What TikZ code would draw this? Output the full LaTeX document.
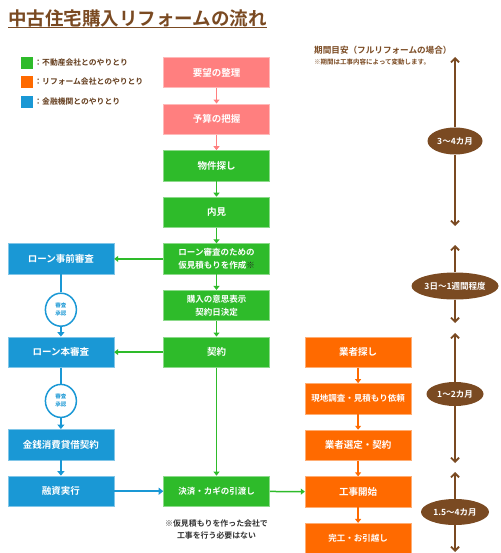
\documentclass[tikz,border=0pt]{standalone}
\usepackage{fontspec}
\setmainfont{Noto Sans CJK JP}[BoldFont={Noto Sans CJK JP Bold}]
\usetikzlibrary{positioning, arrows.meta, shapes.geometric}
\definecolor{wishpink}{HTML}{FF7F7F}
\definecolor{estategreen}{HTML}{2EBB2A}
\definecolor{reformorange}{HTML}{FF6A00}
\definecolor{bankblue}{HTML}{1A98D5}
\definecolor{periodbrown}{HTML}{7A4A22}
\definecolor{notegray}{HTML}{333333}
\tikzset{
	node distance=15.5pt,
	box/.style={minimum width=106pt, minimum height=30.5pt, inner sep=1pt, align=center, text=white, line width=0.6pt, font=\bfseries\fontsize{9.5}{13}\selectfont},
	pinkbox/.style={box, fill=wishpink, draw=wishpink!55!white},
	greenbox/.style={box, fill=estategreen, draw=estategreen!55!white},
	orangebox/.style={box, fill=reformorange, draw=reformorange!55!white},
	bluebox/.style={box, fill=bankblue, draw=bankblue!55!white},
	small/.style={font=\bfseries\fontsize{8.5}{13}\selectfont},
	approval/.style={ellipse, draw=bankblue, line width=1.5pt, fill=white, minimum width=31pt, minimum height=33pt, inner sep=0pt, align=center, text=bankblue, font=\bfseries\fontsize{5.5}{8}\selectfont},
	period/.style={ellipse, fill=periodbrown, text=white, inner sep=0pt, minimum height=27pt, font=\bfseries\fontsize{8.5}{10}\selectfont},
	pinkflow/.style={draw=wishpink, line width=1.5pt, -{Triangle[length=4pt,width=6pt]}},
	greenflow/.style={draw=estategreen, line width=1.5pt, -{Triangle[length=4pt,width=6pt]}},
	orangeflow/.style={draw=reformorange, line width=1.5pt, -{Triangle[length=4pt,width=6pt]}},
	blueflow/.style={draw=bankblue, line width=2pt, -{Triangle[length=4.5pt,width=7pt]}},
	blueline/.style={draw=bankblue, line width=2pt},
	span/.style={draw=periodbrown, line width=1.8pt, -{Straight Barb[length=4pt,width=8pt]}},
	legendbox/.style={minimum size=12pt, inner sep=0pt},
	legendtext/.style={anchor=west, inner sep=0pt, text=periodbrown!80!black, font=\bfseries\fontsize{7.8}{9}\selectfont},
}
\begin{document}
\begin{tikzpicture}
	\useasboundingbox (0,0) rectangle (500pt,-553pt);
	\node[anchor=west, inner sep=0pt, text=periodbrown, font=\bfseries\fontsize{18.5}{20}\selectfont] (TITLE) at (8pt,-18.5pt) {中古住宅購入リフォームの流れ};
	\draw[periodbrown, line width=1.5pt] (TITLE.south west) -- (TITLE.south east);
	
	\node[legendbox, fill=estategreen] (KEYG) at (27pt,-63pt) {};
	\node[legendbox, fill=reformorange] (KEYO) at (27pt,-82pt) {};
	\node[legendbox, fill=bankblue] (KEYB) at (27pt,-102pt) {};
	\node[legendtext, right=1pt of KEYG] {：不動産会社とのやりとり};
	\node[legendtext, right=1pt of KEYO] {：リフォーム会社とのやりとり};
	\node[legendtext, right=1pt of KEYB] {：金融機関とのやりとり};
	
	\node[pinkbox] (WISH) at (216.5pt,-72.5pt) {要望の整理};
	\node[pinkbox, below=of WISH] (BUDGET) {予算の把握};
	\node[greenbox, below=of BUDGET] (SEARCH) {物件探し};
	\node[greenbox, below=of SEARCH] (VIEW) {内見};
	\node[greenbox, small, below=of VIEW] (ESTIMATE) {ローン審査のための\\仮見積もりを作成{\color{black!85}※}};
	\node[greenbox, small, below=of ESTIMATE] (INTENT) {購入の意思表示\\契約日決定};
	\node[greenbox, below=of INTENT] (CONTRACT) {契約};
	\node[greenbox, small, below=108pt of CONTRACT] (SETTLE) {決済・カギの引渡し};
	\node[align=center, text=notegray, font=\bfseries\fontsize{7.9}{12}\selectfont, below=9pt of SETTLE] (NOTE) {※仮見積もりを作った会社で\\工事を行う必要はない};
	
	\node[bluebox, left=49pt of ESTIMATE] (PRECHECK) {ローン事前審査};
	\node[bluebox, left=49pt of CONTRACT] (MAINCHECK) {ローン本審査};
	\node[bluebox, left=49pt of SETTLE] (FUNDING) {融資実行};
	\node[bluebox, above=of FUNDING] (LOAN) {金銭消費貸借契約};
	\node[approval, below=18pt of PRECHECK] (OK1) {審査\\承認};
	\node[approval, below=16pt of MAINCHECK] (OK2) {審査\\承認};
	
	\node[orangebox, right=35pt of CONTRACT] (FIND) {業者探し};
	\node[orangebox, small, below=of FIND] (SURVEY) {現地調査・見積もり依頼};
	\node[orangebox, below=of SURVEY] (SELECT) {業者選定・契約};
	\node[orangebox, below=of SELECT] (START) {工事開始};
	\node[orangebox, small, below=of START] (DONE) {完工・お引越し};
	
	\draw[pinkflow] (WISH) -- (BUDGET);
	\draw[pinkflow] (BUDGET) -- (SEARCH);
	\draw[greenflow] (SEARCH) -- (VIEW);
	\draw[greenflow] (VIEW) -- (ESTIMATE);
	\draw[greenflow] (ESTIMATE) -- (INTENT);
	\draw[greenflow] (INTENT) -- (CONTRACT);
	\draw[greenflow] (CONTRACT) -- (SETTLE);
	\draw[greenflow] (ESTIMATE) -- (PRECHECK);
	\draw[greenflow] (CONTRACT) -- (MAINCHECK);
	\draw[greenflow] (SETTLE) -- (START);
	
	\draw[blueline] (PRECHECK) -- (OK1);
	\draw[blueflow] (OK1) -- (MAINCHECK);
	\draw[blueline] (MAINCHECK) -- (OK2);
	\draw[blueflow] (OK2) -- (LOAN);
	\draw[blueflow] (LOAN) -- (FUNDING);
	\draw[blueflow] (FUNDING) -- (SETTLE);
	
	\draw[orangeflow] (FIND) -- (SURVEY);
	\draw[orangeflow] (SURVEY) -- (SELECT);
	\draw[orangeflow] (SELECT) -- (START);
	\draw[orangeflow] (START) -- (DONE);
	
	\node[anchor=west, inner sep=0pt, text=periodbrown, font=\bfseries\fontsize{8.6}{10}\selectfont] (HEAD) at (314pt,-50pt) {期間目安（フルリフォームの場合）};
	\node[anchor=west, inner sep=0pt, text=periodbrown, font=\bfseries\fontsize{6.5}{8}\selectfont] (HEADNOTE) at (314pt,-62pt) {※期間は工事内容によって変動します。};
	
	\node[period, minimum width=55pt] (P1) at (455pt,-141pt) {3〜4カ月};
	\node[period, minimum width=87pt] (P2) at (455pt,-286pt) {3日〜1週間程度};
	\node[period, minimum width=57pt, minimum height=24pt] (P3) at (455pt,-394pt) {1〜2カ月};
	\node[period, minimum width=68pt, minimum height=26pt] (P4) at (455pt,-512pt) {1.5〜4カ月};
	\coordinate (P1TOP) at (455pt,-57pt);
	\coordinate (P1BOT) at (455pt,-226pt);
	\coordinate (P2TOP) at (455pt,-245pt);
	\coordinate (P2BOT) at (455pt,-323pt);
	\coordinate (P3TOP) at (455pt,-333pt);
	\coordinate (P3BOT) at (455pt,-463pt);
	\coordinate (P4TOP) at (455pt,-472pt);
	\coordinate (P4BOT) at (455pt,-552pt);
	\draw[span] (P1) -- (P1TOP);
	\draw[span] (P1) -- (P1BOT);
	\draw[span] (P2) -- (P2TOP);
	\draw[span] (P2) -- (P2BOT);
	\draw[span] (P3) -- (P3TOP);
	\draw[span] (P3) -- (P3BOT);
	\draw[span] (P4) -- (P4TOP);
	\draw[span] (P4) -- (P4BOT);
\end{tikzpicture}
\end{document}
